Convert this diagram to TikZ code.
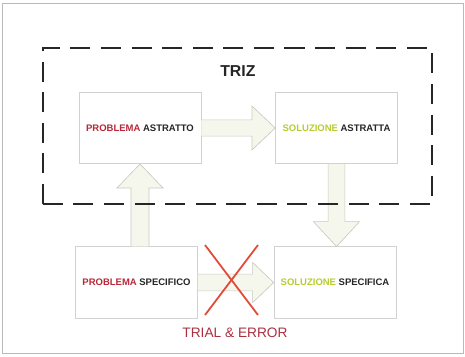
\documentclass[tikz,border=0pt]{standalone}
\usepackage{fontspec}
\setmainfont{Liberation Sans}
\usepackage{xcolor}
\usepackage{tikz}
\usetikzlibrary{calc, positioning}
\definecolor{probred}{RGB}{184, 40, 58}
\definecolor{solgreen}{RGB}{184, 204, 48}
\definecolor{arrowfill}{RGB}{246, 247, 236}
\definecolor{arrowline}{RGB}{200, 200, 192}
\definecolor{boxline}{RGB}{210, 210, 210}
\definecolor{crossred}{RGB}{226, 74, 58}
\definecolor{trialred}{RGB}{170, 48, 64}

\tikzset{
  stepbox/.style={draw=boxline, line width=0.6pt, fill=white,
    minimum width=4.07cm, minimum height=2.38cm,
    font=\fontsize{9}{11}\selectfont\bfseries},
  fatarrow/.style={draw=arrowline, fill=arrowfill, line width=0.6pt, line join=miter},
}

\begin{document}
\begin{tikzpicture}

\useasboundingbox (0,0) rectangle (15.5,11.867);

% Frame
\draw[gray!55, line width=0.8pt] (0.07,0.07) rectangle (15.45,11.75);

% Boxes
\node[stepbox] (pa) at (4.667,7.6) {\textcolor{probred}{PROBLEMA} \textcolor{black!85}{ASTRATTO}};
\node[stepbox] (sa) at (11.217,7.6) {\textcolor{solgreen}{SOLUZIONE} \textcolor{black!85}{ASTRATTA}};
\node[stepbox] (ps) at (4.55,2.45) {\textcolor{probred}{PROBLEMA} \textcolor{black!85}{SPECIFICO}};
\node[stepbox] (ss) at (11.167,2.45) {\textcolor{solgreen}{SOLUZIONE} \textcolor{black!85}{SPECIFICA}};

% Fat arrows
\draw[fatarrow] ($(pa.east)+(0,0.27)$) -- ($(sa.west)+(-0.77,0.27)$)
  -- ($(sa.west)+(-0.77,0.73)$) -- (sa.west) -- ($(sa.west)+(-0.77,-0.73)$)
  -- ($(sa.west)+(-0.77,-0.27)$) -- ($(pa.east)+(0,-0.27)$);
\draw[fatarrow] ($(pa.south |- ps.north)+(-0.3,0)$) -- ($(pa.south)+(-0.3,-0.8)$)
  -- ($(pa.south)+(-0.77,-0.8)$) -- (pa.south) -- ($(pa.south)+(0.77,-0.8)$)
  -- ($(pa.south)+(0.3,-0.8)$) -- ($(pa.south |- ps.north)+(0.3,0)$);
\draw[fatarrow] ($(sa.south)+(-0.28,0)$) -- ($(sa.south |- ss.north)+(-0.28,0.83)$)
  -- ($(sa.south |- ss.north)+(-0.77,0.83)$) -- (sa.south |- ss.north)
  -- ($(sa.south |- ss.north)+(0.77,0.83)$) -- ($(sa.south |- ss.north)+(0.28,0.83)$)
  -- ($(sa.south)+(0.28,0)$);
\draw[fatarrow] ($(ps.east)+(0,0.28)$) -- ($(ss.west)+(-0.7,0.28)$)
  -- ($(ss.west)+(-0.7,0.67)$) -- (ss.west) -- ($(ss.west)+(-0.7,-0.67)$)
  -- ($(ss.west)+(-0.7,-0.28)$) -- ($(ps.east)+(0,-0.28)$);

% TRIZ area
\draw[black!85, line width=2.2pt, dash pattern=on 19pt off 10pt] (1.433,5.067) rectangle (14.4,10.267);
\node[font=\fontsize{15}{18}\selectfont\bfseries, text=black!85] (triz) at (7.93,9.5) {TRIZ};

% Cross
\draw[crossred, line width=1.7pt] (6.833,3.7) -- (8.6,1.367);
\draw[crossred, line width=1.7pt] (8.6,3.7) -- (6.833,1.367);
\node[font=\fontsize{13}{15}\selectfont, text=trialred] (trial) at (7.833,0.767) {TRIAL \& ERROR};

\end{tikzpicture}
\end{document}
